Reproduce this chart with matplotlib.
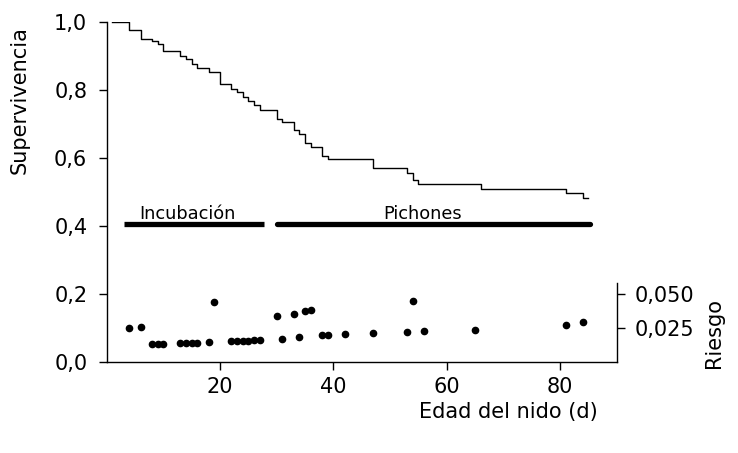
import matplotlib
matplotlib.use("Agg")
import matplotlib.pyplot as plt

plt.rcParams['font.family'] = ['DejaVu Sans']

# curva de supervivencia (escalones)
dias = [1, 4, 6, 8, 9, 10, 13, 14, 15, 16, 18, 20, 22, 23, 24, 25, 26, 27,
        30, 31, 33, 34, 35, 36, 38, 39, 47, 53, 54, 55, 66, 81, 84, 85]
superv = [1.0, 0.976, 0.950, 0.944, 0.934, 0.915, 0.901, 0.890, 0.876, 0.866,
          0.852, 0.817, 0.803, 0.793, 0.780, 0.768, 0.756, 0.741, 0.715, 0.707,
          0.682, 0.670, 0.645, 0.632, 0.607, 0.596, 0.571, 0.557, 0.535, 0.524,
          0.510, 0.496, 0.483, 0.483]

# riesgo diario
dias_riesgo = [4, 6, 8, 9, 10, 13, 14, 15, 16, 18, 19, 22, 23, 24, 25, 26, 27,
               30, 31, 33, 34, 35, 36, 38, 39, 42, 47, 53, 54, 56, 65, 81, 84]
riesgo = [0.0248, 0.0255, 0.0132, 0.0132, 0.0132, 0.0136, 0.0136, 0.0138, 0.0140,
          0.0145, 0.0439, 0.0152, 0.0152, 0.0154, 0.0156, 0.0159, 0.0162,
          0.0336, 0.0171, 0.0355, 0.0182, 0.0373, 0.0384, 0.0201, 0.0201, 0.0208,
          0.0213, 0.0218, 0.0446, 0.0230, 0.0238, 0.0270, 0.0292]

# periodos
periodos = ['Incubación', 'Pichones']
inicio = [3, 30]
fin = [27.8, 85.3]
centro_texto = [14.3, 55.8]
nivel = 0.405

yticks = [0.0, 0.2, 0.4, 0.6, 0.8, 1.0]
ylabels = ['0,0', '0,2', '0,4', '0,6', '0,8', '1,0']
xticks = [20, 40, 60, 80]
rticks = [0.025, 0.050]
rlabels = ['0,025', '0,050']

fig = plt.figure(figsize=(7.38, 4.53), dpi=100)
ax = fig.add_axes([0.1446, 0.2009, 0.691, 0.7505])

ax.step(dias, superv, where='post', color='black', lw=1.0)

caps = ['butt', 'round']
for i in range(len(periodos)):
    ax.plot([inicio[i], fin[i]], [nivel, nivel], color='black', lw=3.8,
            solid_capstyle=caps[i])
    ax.text(centro_texto[i], 0.42, periodos[i],
            ha='center', va='baseline', fontsize=12.8)

ax.set_xlim(0, 90)
ax.set_ylim(0, 1.0)
ax.set_xticks(xticks)
ax.set_yticks(yticks)
ax.set_yticklabels(ylabels)
ax.spines['top'].set_visible(False)
ax.spines['right'].set_visible(False)
ax.tick_params(labelsize=15, length=6, width=1, direction='out')
ax.tick_params(axis='y', pad=8)
ax.tick_params(axis='x', pad=5)
for s in ['left', 'bottom']:
    ax.spines[s].set_linewidth(1)

ax.text(-0.170, 0.771, 'Supervivencia', transform=ax.transAxes, rotation=90,
        ha='center', va='center', fontsize=15)
ax.text(0.787, -0.147, 'Edad del nido (d)', transform=ax.transAxes,
        ha='center', va='center', fontsize=15)

ax2 = ax.twinx()
ax2.set_position(ax.get_position())
ax2.plot(dias_riesgo, riesgo, 'o', color='black', markersize=4.5)
ax2.set_ylim(0, 0.25)
ax2.set_yticks(rticks)
ax2.set_yticklabels(rlabels)
for s in ['top', 'left', 'bottom']:
    ax2.spines[s].set_visible(False)
ax2.spines['right'].set_bounds(0, 0.058)
ax2.spines['right'].set_linewidth(1)
ax2.tick_params(labelsize=15, length=6, width=1, direction='out', pad=7)
ax2.text(1.191, 0.085, 'Riesgo', transform=ax2.transAxes, rotation=90,
         ha='center', va='center', fontsize=15)

fig.savefig('out.png', dpi=100)
